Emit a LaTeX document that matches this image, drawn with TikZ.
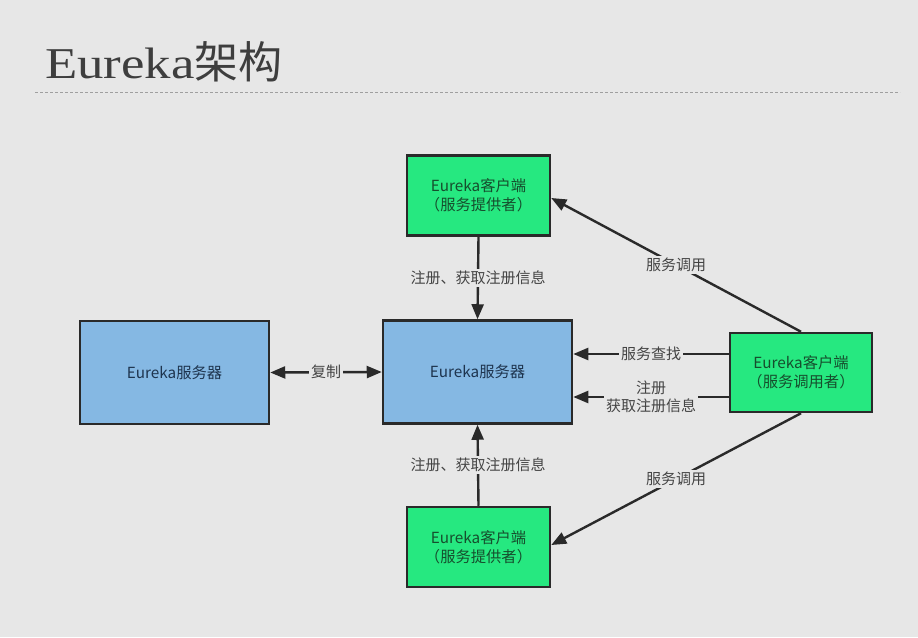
\documentclass[tikz,border=0pt]{standalone}
\usepackage{fontspec}
\setmainfont{Noto Sans CJK SC}
\newfontfamily\titlefont[FakeStretch=1.2]{Liberation Serif}
\newfontfamily\titlecjk{Noto Sans CJK SC}
\usetikzlibrary{arrows.meta}
\definecolor{bg}{RGB}{231,231,231}
\definecolor{gfill}{RGB}{38,232,128}
\definecolor{bfill}{RGB}{133,184,227}
\definecolor{edge}{RGB}{42,42,42}
\definecolor{gtext}{RGB}{22,78,45}
\definecolor{btext}{RGB}{30,52,78}
\definecolor{lbl}{RGB}{68,68,68}
\definecolor{titlecol}{RGB}{62,62,62}
\begin{document}
\begin{tikzpicture}[x=1pt,y=-1pt,
  box/.style={draw=edge,line width=2.5pt,inner sep=0pt,align=center,font=\fontsize{15.3}{19}\selectfont},
  gbox/.style={box,fill=gfill,text=gtext,minimum width=143pt,minimum height=80pt},
  bbox/.style={box,fill=bfill,text=btext,minimum width=189pt,minimum height=103pt},
  tip/.tip={Triangle[length=15pt,width=12pt]},
  conn/.style={draw=edge,line width=2.4pt,-tip},
  lab/.style={fill=bg,text=lbl,inner sep=2pt,font=\fontsize{15}{18}\selectfont,align=center}]
\fill[bg] (0,0) rectangle (918,637);
\useasboundingbox (0,0) rectangle (918,637);
% title
\node[anchor=base west,text=titlecol,inner sep=0pt] (title) at (45,78)
  {\fontsize{44}{50}\selectfont\titlefont Eureka\titlecjk 架构};
\coordinate (dl) at (35,92);
\coordinate (dr) at (900,92);
\draw[draw=gray!75,line width=0.8pt,dash pattern=on 3pt off 2pt] (dl) -- (dr);
% boxes
\node[gbox] (top) at (478.5,195.5) {Eureka客户端\\（服务提供者）};
\node[bbox] (center) at (477.5,372) {Eureka服务器};
\node[bbox] (left) at (174.5,372.5) {Eureka服务器};
\node[gbox,minimum width=142pt,minimum height=79pt] (right) at (801,372.5) {Eureka客户端\\（服务调用者）};
\node[gbox] (bottom) at (478.5,547) {Eureka客户端\\（服务提供者）};
% connectors
\draw[conn] (top.south) -- node[lab] {注册、获取注册信息} (center.north);
\draw[conn] (bottom.north) -- node[lab] {注册、获取注册信息} (center.south);
\draw[conn,tip-tip] (left.east) -- node[lab] {复制} (center.west);
\draw[conn] ([yshift=18.5pt]right.west) -- node[lab] {服务查找} ([yshift=18.5pt]right.west -| center.east);
\draw[conn] ([yshift=-24.5pt]right.west) -- node[lab] {注册\\获取注册信息} ([yshift=-24.5pt]right.west -| center.east);
\draw[conn] (right.north) -- node[lab] {服务调用} ([yshift=-2.5pt]top.east);
\draw[conn] (right.south) -- node[lab] {服务调用} ([yshift=2pt]bottom.east);
\end{tikzpicture}
\end{document}
